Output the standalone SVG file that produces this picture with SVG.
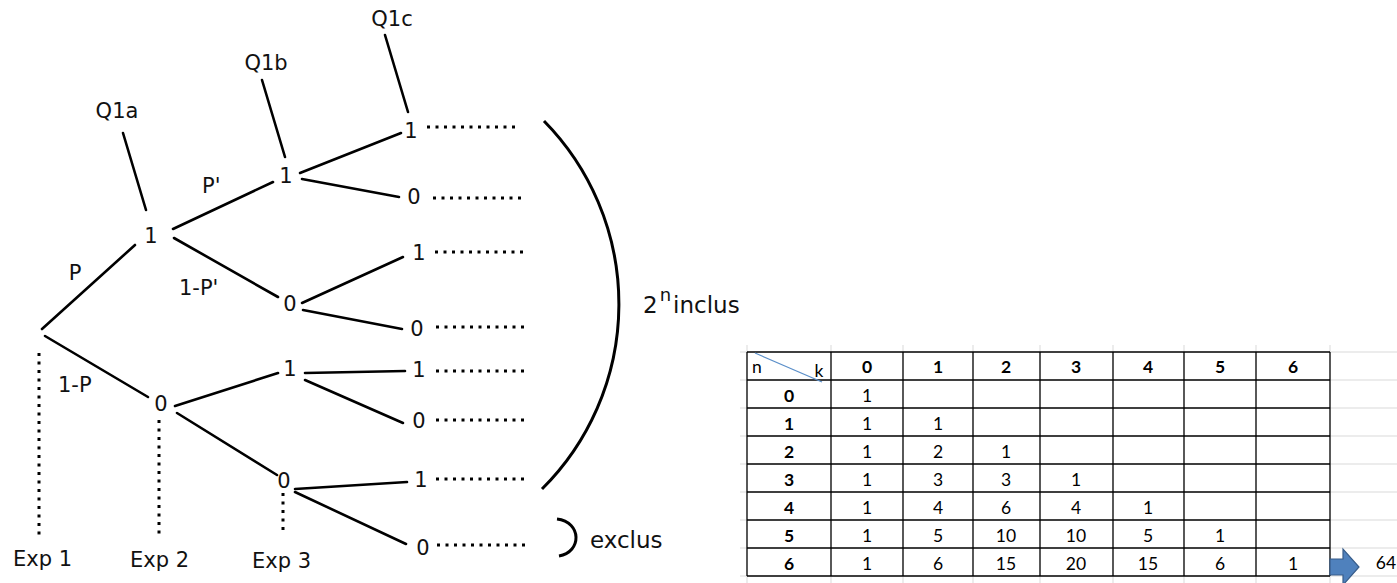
<svg xmlns="http://www.w3.org/2000/svg" width="1397" height="583" viewBox="0 0 1397 583">
<style>
.t{font-family:"DejaVu Sans",sans-serif;font-size:21px;fill:#111;text-anchor:middle}
.ts{font-family:"DejaVu Sans",sans-serif;font-size:21px;fill:#111}
.big{font-family:"DejaVu Sans",sans-serif;font-size:23px;fill:#111}
.e{stroke:#000;stroke-width:2.6;fill:none;stroke-linecap:round}
.d{stroke:#000;stroke-width:3;fill:none;stroke-dasharray:3 5.5}
.grid{stroke:#d9d9d9;stroke-width:1}
.tb{stroke:#000;stroke-width:1.3;fill:none}
.c{font-family:Lato,"Open Sans",sans-serif;font-size:17.5px;fill:#000;text-anchor:middle}
.cb{font-family:Lato,"Open Sans",sans-serif;font-size:17.5px;fill:#000;text-anchor:middle;font-weight:bold}
</style>
<rect width="1397" height="583" fill="#fff"/>
<g id="connectors">
<path class="e" d="M123 133L146 210"/>
<path class="e" d="M262 80L285 157"/>
<path class="e" d="M385 35L408 112"/>
<path class="e" d="M42 329L135 245"/>
<path class="e" d="M45 336L148 397"/>
<path class="e" d="M173 229L273 182"/>
<path class="e" d="M174 238L278 297"/>
<path class="e" d="M300 173L401 133"/>
<path class="e" d="M302 179L399 197"/>
<path class="e" d="M302 303L403 257"/>
<path class="e" d="M303 310L402 329"/>
<path class="e" d="M175 406L278 373"/>
<path class="e" d="M177 413L277 475"/>
<path class="e" d="M305 373L405 371"/>
<path class="e" d="M305 380L403 423"/>
<path class="e" d="M295 489L407 482"/>
<path class="e" d="M295 492L406 544"/>
<path class="d" d="M39 353V537"/>
<path class="d" d="M159 420V536"/>
<path class="d" d="M283 493V533"/>
<path class="d" d="M427 127H520"/>
<path class="d" d="M433 198H526"/>
<path class="d" d="M435 252H528"/>
<path class="d" d="M436 327H526"/>
<path class="d" d="M436 371H527"/>
<path class="d" d="M436 420H527"/>
<path class="d" d="M436 479H528"/>
<path class="d" d="M437 545H529"/>
<path d="M544 121A261 261 0 0 1 542 489" stroke="#000" stroke-width="3" fill="none"/>
<path d="M557 519C582 522 582 552 559 556" stroke="#000" stroke-width="3" fill="none"/>
</g>
<g id="q1a"><text class="t" x="117" y="118">Q1a</text></g>
<g id="q1b"><text class="t" x="266" y="70">Q1b</text></g>
<g id="q1c"><text class="t" x="392" y="26">Q1c</text></g>
<g id="lbl-p"><text class="t" x="75" y="280">P</text></g>
<g id="lbl-pp"><text class="ts" x="202" y="193">P'</text></g>
<g id="lbl-1pp"><text class="ts" x="179" y="295">1-P'</text></g>
<g id="lbl-1p"><text class="ts" x="58" y="392">1-P</text></g>
<g id="n-a1"><text class="t" x="151" y="243">1</text></g>
<g id="n-a0"><text class="t" x="161" y="411">0</text></g>
<g id="n-b11"><text class="t" x="286" y="183">1</text></g>
<g id="n-b10"><text class="t" x="290" y="311">0</text></g>
<g id="n-b01"><text class="t" x="290" y="376">1</text></g>
<g id="n-b00"><text class="t" x="284" y="488">0</text></g>
<g id="l1"><text class="t" x="411" y="138">1</text></g>
<g id="l2"><text class="t" x="414" y="204">0</text></g>
<g id="l3"><text class="t" x="419" y="260">1</text></g>
<g id="l4"><text class="t" x="417" y="336">0</text></g>
<g id="l5"><text class="t" x="419" y="377">1</text></g>
<g id="l6"><text class="t" x="419" y="428">0</text></g>
<g id="l7"><text class="t" x="421" y="487">1</text></g>
<g id="l8"><text class="t" x="423" y="555">0</text></g>
<g id="exp1"><text class="ts" x="13" y="566">Exp 1</text></g>
<g id="exp2"><text class="ts" x="130" y="567">Exp 2</text></g>
<g id="exp3"><text class="ts" x="252" y="568">Exp 3</text></g>
<g id="inclus"><text class="big" x="643" y="313">2<tspan dx="2" dy="-12" font-size="18">n</tspan><tspan dx="2" dy="12">inclus</tspan></text></g>
<g id="exclus"><text class="big" x="590" y="548">exclus</text></g>
<g id="table">
<path class="grid" d="M747 345V352M831 345V352M903 345V352M973 345V352M1040 345V352M1113 345V352M1184 345V352M1256 345V352M1330 345V352M747 576V583M831 576V583M903 576V583M973 576V583M1040 576V583M1113 576V583M1184 576V583M1256 576V583M1330 576V583M740 352H747M740 380H747M740 408H747M740 436H747M740 464H747M740 492H747M740 520H747M740 548H747M740 576H747M1330 352H1397M1330 380H1397M1330 408H1397M1330 436H1397M1330 464H1397M1330 492H1397M1330 520H1397M1330 548H1397M1330 576H1397"/>
<rect x="747" y="352" width="583" height="224" fill="#fff"/>
<path class="tb" d="M747 352H1330M747 380H1330M747 408H1330M747 436H1330M747 464H1330M747 492H1330M747 520H1330M747 548H1330M747 576H1330M747 352V576M831 352V576M903 352V576M973 352V576M1040 352V576M1113 352V576M1184 352V576M1256 352V576M1330 352V576"/>
<path d="M755 353L822 382" stroke="#5b8fc9" stroke-width="1.2"/>
<text class="c" x="757" y="373">n</text>
<text class="c" x="819" y="377">k</text>
<text class="cb" x="867" y="373">0</text><text class="cb" x="938" y="373">1</text><text class="cb" x="1006" y="373">2</text><text class="cb" x="1076" y="373">3</text><text class="cb" x="1148" y="373">4</text><text class="cb" x="1220" y="373">5</text><text class="cb" x="1293" y="373">6</text>
<text class="cb" x="789" y="402">0</text><text class="c" x="867" y="402">1</text>
<text class="cb" x="789" y="430">1</text><text class="c" x="867" y="430">1</text><text class="c" x="938" y="430">1</text>
<text class="cb" x="789" y="458">2</text><text class="c" x="867" y="458">1</text><text class="c" x="938" y="458">2</text><text class="c" x="1006" y="458">1</text>
<text class="cb" x="789" y="486">3</text><text class="c" x="867" y="486">1</text><text class="c" x="938" y="486">3</text><text class="c" x="1006" y="486">3</text><text class="c" x="1076" y="486">1</text>
<text class="cb" x="789" y="514">4</text><text class="c" x="867" y="514">1</text><text class="c" x="938" y="514">4</text><text class="c" x="1006" y="514">6</text><text class="c" x="1076" y="514">4</text><text class="c" x="1148" y="514">1</text>
<text class="cb" x="789" y="542">5</text><text class="c" x="867" y="542">1</text><text class="c" x="938" y="542">5</text><text class="c" x="1006" y="542">10</text><text class="c" x="1076" y="542">10</text><text class="c" x="1148" y="542">5</text><text class="c" x="1220" y="542">1</text>
<text class="cb" x="789" y="570">6</text><text class="c" x="867" y="570">1</text><text class="c" x="938" y="570">6</text><text class="c" x="1006" y="570">15</text><text class="c" x="1076" y="570">20</text><text class="c" x="1148" y="570">15</text><text class="c" x="1220" y="570">6</text><text class="c" x="1293" y="570">1</text>
</g>
<g id="arrow"><path d="M1330 559H1343V549L1359 567L1343 585V575H1330Z" fill="#4f81bd" stroke="#385d8a" stroke-width="1.2"/></g>
<g id="total"><text class="c" x="1386" y="569">64</text></g>
</svg>
